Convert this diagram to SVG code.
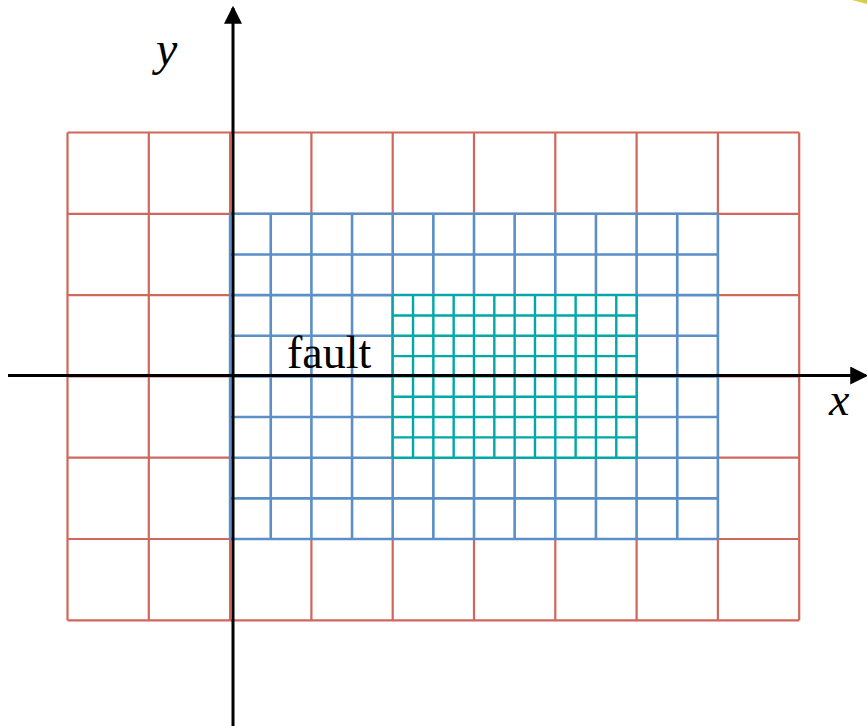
<svg xmlns="http://www.w3.org/2000/svg" width="867" height="726" viewBox="0 0 867 726">
<style>
.red{fill:none;stroke:#D0675C;stroke-width:2.2}
.blue{fill:none;stroke:#5B8FC8;stroke-width:2.6}
.teal{fill:none;stroke:#00A8A8;stroke-width:2.4}
.axis{fill:none;stroke:#000;stroke-width:3}
.lbl{font-family:"Liberation Serif","Times New Roman",serif;fill:#000}
</style>
<defs>
<marker id="ah" markerUnits="userSpaceOnUse" markerWidth="18" markerHeight="18" viewBox="0 0 16 16" refX="14" refY="8" orient="auto">
<path d="M0,0 L16,8 L0,16 Z" fill="#000"/>
</marker>
</defs>
<rect width="867" height="726" fill="#fff"/>
<g id="coarse-grid">
<path class="red" d="M67.5,132.5V620.3M148.8,132.5V620.3M230.1,132.5V620.3M311.4,132.5V620.3M392.7,132.5V620.3M474,132.5V620.3M555.3,132.5V620.3M636.6,132.5V620.3M717.9,132.5V620.3M799.2,132.5V620.3M67.5,132.5H799.2M67.5,213.8H799.2M67.5,295.1H799.2M67.5,376.4H799.2M67.5,457.7H799.2M67.5,539H799.2M67.5,620.3H799.2"/>
</g>
<g id="medium-grid">
<rect x="230.1" y="213.8" width="487.8" height="325.2" fill="#fff"/>
<path class="blue" d="M230.1,213.8V539M270.75,213.8V539M311.4,213.8V539M352.05,213.8V539M392.7,213.8V539M433.35,213.8V539M474,213.8V539M514.65,213.8V539M555.3,213.8V539M595.95,213.8V539M636.6,213.8V539M677.25,213.8V539M717.9,213.8V539M230.1,213.8H717.9M230.1,254.45H717.9M230.1,295.1H717.9M230.1,335.75H717.9M230.1,376.4H717.9M230.1,417.05H717.9M230.1,457.7H717.9M230.1,498.35H717.9M230.1,539H717.9"/>
</g>
<g id="fine-grid">
<rect x="392.7" y="295.1" width="243.9" height="162.6" fill="#fff"/>
<path class="teal" d="M392.7,295.1V457.7M413.03,295.1V457.7M433.35,295.1V457.7M453.68,295.1V457.7M474,295.1V457.7M494.33,295.1V457.7M514.65,295.1V457.7M534.98,295.1V457.7M555.3,295.1V457.7M575.63,295.1V457.7M595.95,295.1V457.7M616.28,295.1V457.7M636.6,295.1V457.7M392.7,295.1H636.6M392.7,315.43H636.6M392.7,335.75H636.6M392.7,356.08H636.6M392.7,376.4H636.6M392.7,396.73H636.6M392.7,417.05H636.6M392.7,437.38H636.6M392.7,457.7H636.6"/>
</g>
<g id="connectors">
<line class="axis" x1="8" y1="375.5" x2="866" y2="375.5" marker-end="url(#ah)"/>
<line class="axis" x1="233" y1="726" x2="233" y2="8" marker-end="url(#ah)"/>
</g>
<g id="labels">
<text class="lbl" x="287" y="368" font-size="46">fault</text>
<text class="lbl" x="156" y="65" font-size="48" font-style="italic">y</text>
<text class="lbl" x="829" y="415" font-size="46" font-style="italic">x</text>
</g>
<path d="M852,0 L867,0 L867,4 Z" fill="#D8D040"/>
</svg>
